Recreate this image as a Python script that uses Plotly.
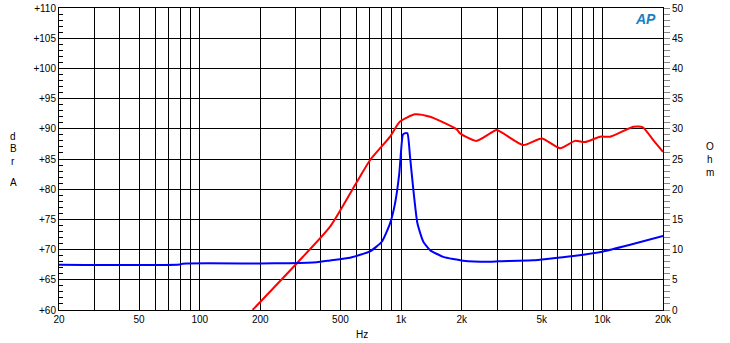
import numpy as np
import plotly.graph_objects as go

# Red curve: SPL (dBrA, left axis)
spl_freq = [183, 303, 444, 591, 701, 882, 988, 1174, 1394, 1562, 1890, 1964,
            2362, 2768, 2988, 4050, 5000, 6166, 7318, 8207, 9740, 10920, 14260,
            15880, 17930, 20000]
spl_db = [60.0, 67.7, 73.8, 80.7, 84.8, 88.7, 91.2, 92.4, 92.0, 91.3, 89.9, 89.25,
          88.0, 89.25, 89.8, 87.3, 88.4, 86.8, 88.0, 87.8, 88.7, 88.7, 90.35,
          90.25, 88.1, 86.2]

# Blue curve: impedance (Ohm, right axis)
imp_freq = [20, 80, 82, 200, 280, 381, 444, 558, 701, 802, 882, 934, 980, 1020,
            1040, 1075, 1108, 1151, 1205, 1290, 1394, 1622, 2039, 2768, 3041,
            4525, 5296, 7178, 10116, 13732, 20000]
imp_ohm = [7.5, 7.52, 7.67, 7.7, 7.75, 7.9, 8.2, 8.66, 9.7, 11.3, 14.35, 17.7, 22.6, 29.0,
           29.25, 29.25, 25.4, 19.9, 14.4, 11.3, 9.9, 8.8, 8.16, 8.0, 8.06,
           8.22, 8.44, 8.94, 9.7, 10.8, 12.25]

grid_freqs = [20, 30, 40, 50, 60, 70, 80, 90, 100, 200, 300, 400, 500, 600, 700, 800, 900,
              1000, 2000, 3000, 4000, 5000, 6000, 7000, 8000, 9000, 10000, 20000]
label_map = {20: "20", 50: "50", 100: "100", 200: "200", 500: "500", 1000: "1k",
             2000: "2k", 5000: "5k", 10000: "10k", 20000: "20k"}
x_ticktext = [label_map.get(f, "") for f in grid_freqs]

left_vals = [60, 65, 70, 75, 80, 85, 90, 95, 100, 105, 110]
left_text = ["+%d" % v for v in left_vals]
right_vals = [0, 5, 10, 15, 20, 25, 30, 35, 40, 45, 50]

FONT = "Liberation Sans, Arial, sans-serif"

fig = go.Figure()
fig.add_trace(go.Scatter(x=spl_freq, y=spl_db, mode="lines",
                         line=dict(color="#ff0000", width=2, shape="spline", smoothing=0.6),
                         yaxis="y", showlegend=False, hoverinfo="skip"))
fig.add_trace(go.Scatter(x=imp_freq, y=imp_ohm, mode="lines",
                         line=dict(color="#0000ff", width=2, shape="spline", smoothing=0.5),
                         yaxis="y2", showlegend=False, hoverinfo="skip"))

fig.update_layout(
    width=730, height=343,
    margin=dict(l=59, r=67, t=8, b=33, autoexpand=False),
    paper_bgcolor="white", plot_bgcolor="white",
    font=dict(family=FONT, size=10, color="black"),
    xaxis=dict(type="log", range=[np.log10(20), np.log10(20000)],
               tickmode="array", tickvals=grid_freqs, ticktext=x_ticktext,
               showgrid=True, gridcolor="black", gridwidth=1,
               showline=True, linecolor="black", linewidth=1, mirror=True,
               ticks="", zeroline=False, tickfont=dict(size=10), automargin=False),
    yaxis=dict(range=[60, 110], tickmode="array", tickvals=left_vals, ticktext=left_text,
               showgrid=True, gridcolor="black", gridwidth=1,
               showline=True, linecolor="black", linewidth=1,
               ticks="inside", ticklen=4, tickcolor="black",
               minor=dict(dtick=1, ticks="inside", ticklen=4, tickcolor="black", showgrid=False),
               zeroline=False, tickfont=dict(size=10), automargin=False),
    yaxis2=dict(range=[0, 50], overlaying="y", side="right",
                tickmode="array", tickvals=right_vals,
                showgrid=False, showline=True, linecolor="black", linewidth=1,
                ticks="outside", ticklen=6, tickcolor="#888888",
                minor=dict(dtick=1, ticks="outside", ticklen=6, tickcolor="#888888", showgrid=False),
                zeroline=False, tickfont=dict(size=10), automargin=False),
)

annots = [
    dict(text="Hz", x=362, y=334),
    dict(text="d", x=13, y=136), dict(text="B", x=13, y=148),
    dict(text="r", x=13, y=161), dict(text="A", x=13, y=182),
    dict(text="O", x=710, y=146), dict(text="h", x=710, y=159), dict(text="m", x=710, y=172),
]
for a in annots:
    fig.add_annotation(text=a["text"], xref="paper", yref="paper",
                       x=(a["x"] - 59) / 604, y=(310 - a["y"]) / 302,
                       showarrow=False, xanchor="center", yanchor="middle",
                       font=dict(family=FONT, size=10, color="black"))

fig.add_annotation(text="<b><i>AP</i></b>", xref="paper", yref="paper",
                   x=(645 - 59) / 604, y=(310 - 19) / 302, showarrow=False,
                   xanchor="center", yanchor="middle",
                   font=dict(family=FONT, size=14, color="#1a7fc1"))

fig.write_html("out.html", config={"displayModeBar": False},
               post_script="document.body.style.margin='0';document.body.style.padding='0';")
